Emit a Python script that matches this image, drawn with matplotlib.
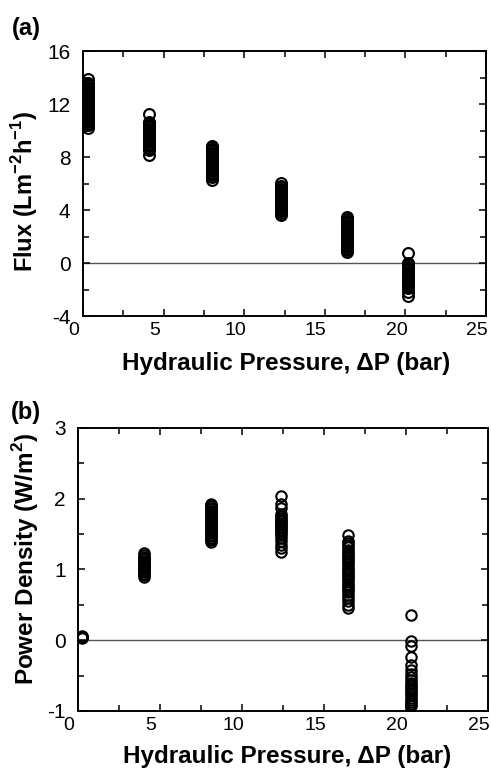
import matplotlib
matplotlib.use('Agg')
import matplotlib.pyplot as plt
import matplotlib.transforms as mtransforms
from matplotlib.ticker import MultipleLocator

plt.rcParams['font.family'] = ['Liberation Sans', 'DejaVu Sans']
plt.rcParams['mathtext.fontset'] = 'custom'
plt.rcParams['mathtext.bf'] = 'Liberation Sans:bold'
plt.rcParams['mathtext.rm'] = 'Liberation Sans'
plt.rcParams['axes.unicode_minus'] = False

# ---------------------------------------------------------------------------
# Data: pressure steps and the scatter of repeat runs
# ---------------------------------------------------------------------------
pressure_a = [0.3, 4.1, 8.0, 12.3, 16.4, 20.15]
flux = [
    [13.9, 13.62, 13.52, 13.43, 13.33, 13.22, 13.12, 13.03, 12.93, 12.82, 12.72,
     12.63, 12.52, 12.42, 12.33, 12.22, 12.12, 12.03, 11.92, 11.82, 11.73, 11.62,
     11.52, 11.43, 11.32, 11.22, 11.13, 11.02, 10.92, 10.83, 10.72, 10.62, 10.52,
     10.43, 10.2],
    [11.25, 10.65, 10.55, 10.44, 10.35, 10.24, 10.13, 10.04, 9.93, 9.84, 9.73,
     9.62, 9.53, 9.42, 9.33, 9.22, 9.12, 9.03, 8.92, 8.83, 8.72, 8.62, 8.52, 8.15],
    [8.85, 8.74, 8.65, 8.54, 8.43, 8.34, 8.23, 8.12, 8.03, 7.92, 7.83, 7.72, 7.62,
     7.53, 7.42, 7.32, 7.23, 7.12, 7.02, 6.93, 6.82, 6.72, 6.63, 6.52, 6.3],
    [6.05, 5.82, 5.72, 5.63, 5.52, 5.42, 5.33, 5.22, 5.12, 5.03, 4.92, 4.82, 4.73,
     4.62, 4.52, 4.43, 4.32, 4.22, 4.13, 4.02, 3.92, 3.82, 3.6],
    [3.45, 3.3, 3.2, 3.11, 3.0, 2.9, 2.81, 2.7, 2.6, 2.51, 2.4, 2.3, 2.21, 2.1,
     2.0, 1.91, 1.8, 1.7, 1.61, 1.5, 1.4, 1.31, 1.2, 1.1, 1.01, 0.85],
    [0.75, 0.05, -0.05, -0.14, -0.25, -0.35, -0.44, -0.55, -0.65, -0.74, -0.85,
     -0.95, -1.04, -1.15, -1.25, -1.34, -1.45, -1.55, -1.64, -1.75, -1.85, -2.2,
     -2.5],
]

pressure_b = [0.25, 4.0, 8.1, 12.4, 16.45, 20.3]
power = [
    [0.05, 0.04, 0.06, 0.05, 0.03],
    [1.23, 1.20, 1.18, 1.16, 1.14, 1.12, 1.10, 1.08, 1.06, 1.05, 1.04, 1.03,
     1.02, 1.01, 1.00, 0.98, 0.96, 0.94, 0.92, 0.89],
    [1.93, 1.91, 1.89, 1.87, 1.85, 1.83, 1.81, 1.79, 1.77, 1.75, 1.73, 1.71,
     1.69, 1.67, 1.65, 1.63, 1.61, 1.59, 1.57, 1.55, 1.53, 1.51, 1.49, 1.47,
     1.45, 1.43, 1.41, 1.38],
    [2.03, 1.93, 1.87, 1.78, 1.75, 1.72, 1.70, 1.68, 1.66, 1.64, 1.62, 1.60,
     1.58, 1.56, 1.54, 1.52, 1.49, 1.45, 1.40, 1.34, 1.30, 1.24],
    [1.49, 1.40, 1.37, 1.34, 1.31, 1.28, 1.25, 1.22, 1.19, 1.16, 1.13, 1.10,
     1.07, 1.04, 1.01, 0.98, 0.95, 0.92, 0.89, 0.86, 0.83, 0.80, 0.77, 0.74,
     0.71, 0.68, 0.64, 0.60, 0.55, 0.50, 0.45],
    [0.35, -0.01, -0.08, -0.24, -0.35, -0.42, -0.48, -0.52, -0.56, -0.60, -0.63,
     -0.66, -0.69, -0.72, -0.75, -0.78, -0.81, -0.84, -0.87, -0.90, -0.93],
]

XLABEL = 'Hydraulic Pressure, ΔP (bar)'

fig = plt.figure(figsize=(4.91, 7.75), dpi=100)
ax_a = fig.add_axes([0.169, 0.592, 0.821, 0.342])
ax_b = fig.add_axes([0.159, 0.0826, 0.835, 0.3654])
# the scanned original has its x tick labels sitting a little left of the ticks
shift_left = mtransforms.ScaledTranslation(-9 / 100, 0, fig.dpi_scale_trans)


def style(ax, ylim, major, minor):
    ax.set_xlim(0, 25)
    ax.set_ylim(*ylim)
    ax.set_xticks([0, 5, 10, 15, 20, 25])
    ax.xaxis.set_minor_locator(MultipleLocator(2.5))
    ax.yaxis.set_major_locator(MultipleLocator(major))
    ax.yaxis.set_minor_locator(MultipleLocator(minor))
    ax.tick_params(which='both', direction='in', top=True, right=True, width=1.1)
    ax.tick_params(axis='x', labelsize=14, pad=4)
    ax.tick_params(axis='y', labelsize=15, pad=9)
    ax.tick_params(which='major', length=5)
    ax.tick_params(which='minor', length=4)
    for lab in ax.get_xticklabels():
        lab.set_transform(lab.get_transform() + shift_left)
    for s in ax.spines.values():
        s.set_linewidth(1.4)
    ax.axhline(0, color='#555555', lw=1, zorder=1)
    ax.set_xlabel(XLABEL, fontsize=17.5, fontweight='bold')


for xp, vals in zip(pressure_a, flux):
    ax_a.plot([xp] * len(vals), vals, 'o', ms=7.8, mfc='none', mec='black',
              mew=1.55, zorder=3)
style(ax_a, (-4, 16), 4, 2)
ax_a.set_ylabel(r'Flux (Lm$^{\mathbf{-2}}$h$^{\mathbf{-1}}$)', fontsize=17,
                fontweight='bold')
ax_a.yaxis.set_label_coords(-0.107, 0.47)
ax_a.xaxis.set_label_coords(0.504, -0.136)

for xp, vals in zip(pressure_b, power):
    ax_b.plot([xp] * len(vals), vals, 'o', ms=7.5, mfc='none', mec='black',
              mew=1.5, zorder=3)
style(ax_b, (-1, 3), 1, 0.5)
ax_b.set_ylabel(r'Power Density (W/m$^{\mathbf{2}}$)', fontsize=17.5,
                fontweight='bold')
ax_b.yaxis.set_label_coords(-0.09, 0.537)
ax_b.xaxis.set_label_coords(0.51, -0.12)

fig.text(26 / 491, 1 - 29 / 775, '(a)', fontsize=17, fontweight='bold',
         ha='center', va='center')
fig.text(26 / 491, 1 - 412 / 775, '(b)', fontsize=17, fontweight='bold',
         ha='center', va='center')

fig.savefig('out.png', dpi=100)
